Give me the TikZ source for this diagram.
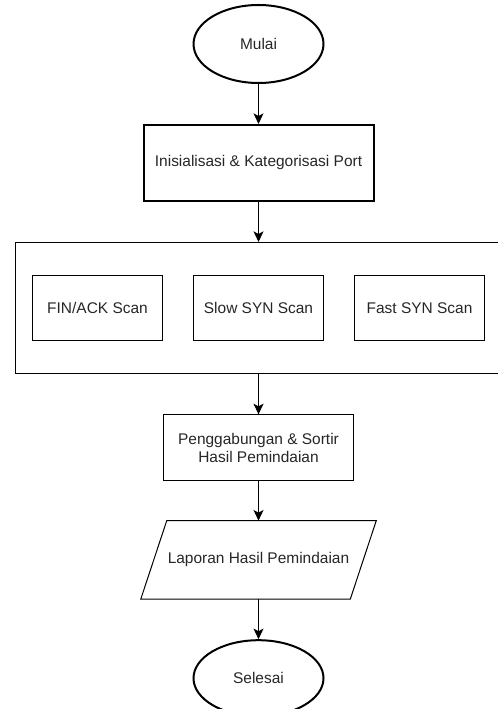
\documentclass[tikz,border=0pt]{standalone}
\usepackage{fontspec}
\setmainfont{Liberation Sans}
\usetikzlibrary{positioning, arrows.meta, shapes.geometric}

\begin{document}
\begin{tikzpicture}[
    x=0.75pt, y=-0.75pt,
    node distance=30pt and 22pt,
    every node/.style={font=\fontsize{11.6}{13.5}\selectfont, text=black!85},
    terminal/.style={draw, ellipse, line width=1.5pt, minimum width=97.5pt, minimum height=58.5pt},
    process/.style={draw, line width=0.75pt, minimum width=98pt, minimum height=49pt, align=center},
    mainproc/.style={process, line width=1.5pt, minimum width=172.5pt, minimum height=57pt},
    group/.style={draw, line width=0.75pt, minimum width=380pt, minimum height=98.5pt},
    io/.style={minimum width=156.75pt, minimum height=58.5pt},
    arr/.style={-{Stealth[length=8pt, width=7.5pt, inset=2pt]}, line width=0.75pt}
]
\useasboundingbox (0,0) rectangle (497,709);
\node[terminal] (mulai) at (258.5,44) {Mulai};
\node[mainproc, below=of mulai] (init) {Inisialisasi \& Kategorisasi Port};
\node[group, below=of init, xshift=7.5pt] (scan) {};
\node[process] (slow) at (init |- scan) {Slow SYN Scan};
\node[process, left=of slow] (finack) {FIN/ACK Scan};
\node[process, right=of slow] (fast) {Fast SYN Scan};
\node[process, minimum width=142.5pt, below=of slow |- scan.south] (gabung) {Penggabungan \& Sortir\\Hasil Pemindaian};
\node[io, below=of gabung] (laporan) {Laporan Hasil Pemindaian};
% parallelogram round the output node
\draw[line width=0.75pt] ([xshift=9.75pt]laporan.north west) -- ([xshift=9.75pt]laporan.north east)
    -- ([xshift=-9.75pt]laporan.south east) -- ([xshift=-9.75pt]laporan.south west) -- cycle;
\node[terminal, minimum height=57pt, below=of laporan] (selesai) {Selesai};
\draw[arr] (mulai) -- (init);
\draw[arr] (init) -- (init |- scan.north);
\draw[arr] (gabung |- scan.south) -- (gabung);
\draw[arr] (gabung) -- (laporan);
\draw[arr] (laporan) -- (selesai);
\end{tikzpicture}
\end{document}
